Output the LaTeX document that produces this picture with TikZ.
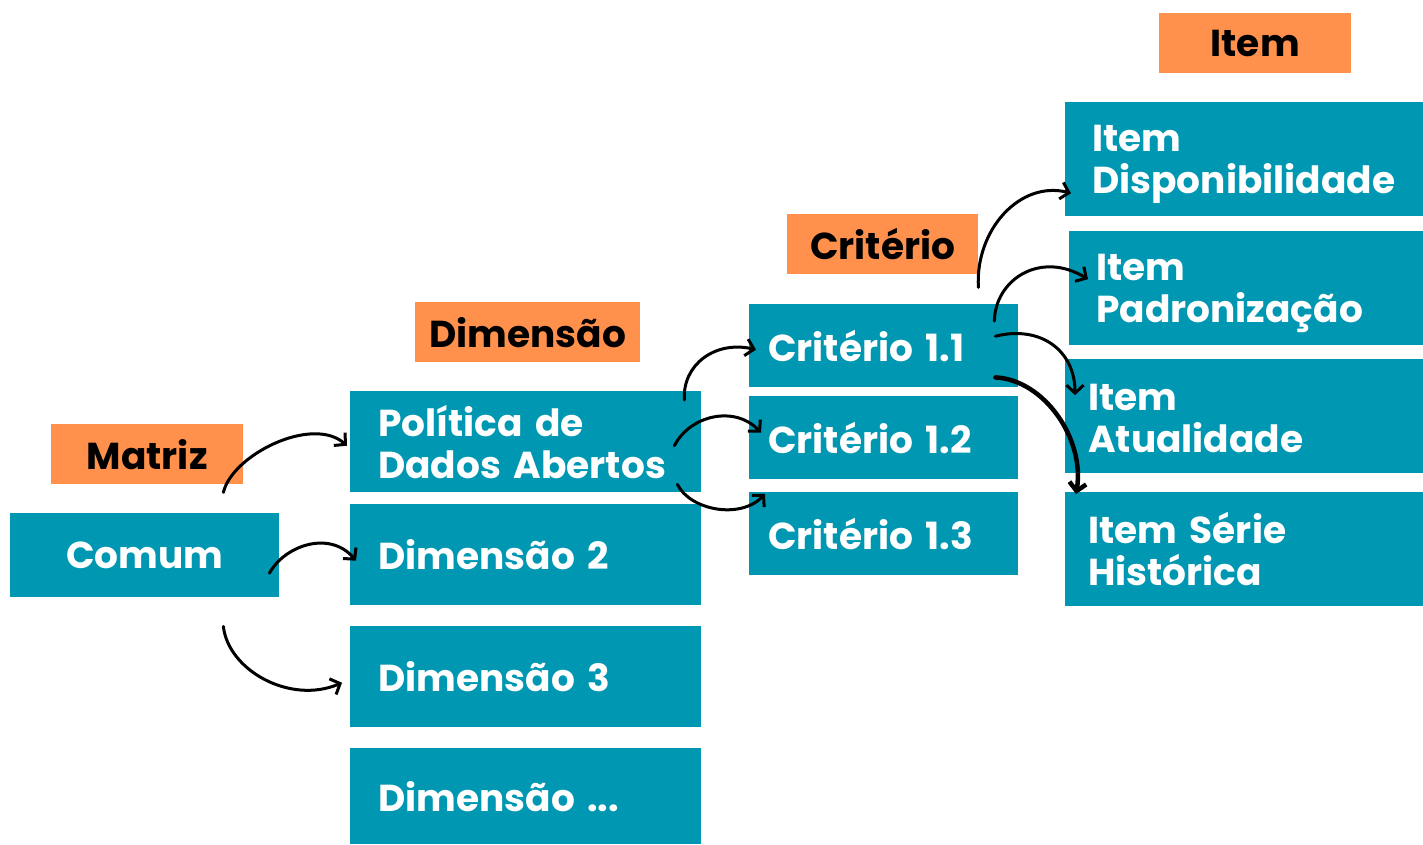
\documentclass[tikz,border=0pt]{standalone}
\usepackage{fontspec}
\setmainfont{Poppins}
\usetikzlibrary{arrows.meta,calc}
\definecolor{tealbox}{RGB}{0,151,178}
\definecolor{orangebox}{RGB}{255,145,77}
\newcommand{\topstrut}[1]{\rule{0pt}{#1pt}}
\tikzset{
  base/.style={anchor=north west, inner ysep=0pt, font=\fontsize{37.5}{42}\selectfont\bfseries},
  tbox/.style={base, fill=tealbox, text=white, align=left},
  obox/.style={base, fill=orangebox, text=black, align=center, inner xsep=0pt},
  arr/.style={line width=3pt, line cap=round, -{Straight Barb[length=8pt,width=17pt]}},
  arrthick/.style={arr, line width=4.5pt}
}
\begin{document}
\begin{tikzpicture}[x=1pt,y=-1pt]
\useasboundingbox (0,0) rectangle (1423,844);
% labels
\node[obox, minimum width=192pt, minimum height=60pt] (litem) at (1159,13) {Item};
\node[obox, minimum width=191pt, minimum height=60pt] (lcrit) at (787,214) {Critério};
\node[obox, minimum width=225pt, minimum height=60pt] (ldim) at (415,302) {Dimensão};
\node[obox, minimum width=192pt, minimum height=60pt] (lmat) at (51,424) {Matriz};
% items
\node[tbox, minimum height=114pt, text width=304pt, inner xsep=27pt] (idisp) at (1065,102) {\mbox{\topstrut{37}Item}\\\mbox{Disponibilidade}};
\node[tbox, minimum height=114pt, text width=300pt, inner xsep=27pt] (ipad) at (1069,231) {\mbox{\topstrut{36}Item}\\\mbox{Padronização}};
\node[tbox, minimum height=114pt, text width=312pt, inner xsep=23pt] (iatual) at (1065,359) {\mbox{\topstrut{30}Item}\\\mbox{Atualidade}};
\node[tbox, minimum height=114pt, text width=312pt, inner xsep=23pt] (iserie) at (1065,492) {\mbox{\topstrut{30}Item Série}\\\mbox{Histórica}};
% criteria
\node[tbox, minimum height=83pt, text width=231pt, inner xsep=19pt] (c11) at (749,304) {Critério 1.1};
\node[tbox, minimum height=83pt, text width=231pt, inner xsep=19pt] (c12) at (749,396) {Critério 1.2};
\node[tbox, minimum height=83pt, text width=231pt, inner xsep=19pt] (c13) at (749,492) {Critério 1.3};
% dimensions
\node[tbox, minimum height=101pt, text width=295pt, inner xsep=28pt] (pol) at (350,391) {\mbox{Política de}\\\mbox{Dados Abertos}};
\node[tbox, minimum height=101pt, text width=295pt, inner xsep=28pt] (d2) at (350,504) {Dimensão 2};
\node[tbox, minimum height=101pt, text width=295pt, inner xsep=28pt] (d3) at (350,626) {Dimensão 3};
\node[tbox, minimum height=96pt, text width=295pt, inner xsep=28pt] (dn) at (350,748) {Dimensão ...};
% matrix
\node[tbox, minimum height=84pt, text width=269pt, inner xsep=0pt, align=center] (comum) at (10,513) {Comum};
% arrows
\draw[arr] ($(lmat.south east)+(-20,8)$) .. controls (232,455) and (312,415) .. ($(pol.west)+(-3,4)$);
\draw[arr] ($(comum.east)+(-10,18)$) .. controls (285,545) and (330,530) .. ($(d2.west)+(6,6)$);
\draw[arr] ($(comum.south east)+(-56,29)$) .. controls (228,670) and (290,705) .. ($(d3.west)+(-8,6)$);
\draw[arr] ($(pol.north east)+(-17,9)$) .. controls (682,365) and (715,340) .. ($(c11.west)+(7,4)$);
\draw[arr] ($(pol.east)+(-27,4)$) .. controls (690,415) and (735,405) .. ($(c12.west)+(12,-5)$);
\draw[arr] ($(pol.south east)+(-24,-8)$) .. controls (690,510) and (740,520) .. ($(c13.north west)+(16,2)$);
\draw[arr] ($(lcrit.south east)+(0,13)$) .. controls (975,230) and (1020,180) .. ($(idisp.west)+(6,34)$);
\draw[arr] ($(c11.north east)+(-24,17)$) .. controls (995,280) and (1040,250) .. ($(ipad.west)+(19,-9)$);
\draw[arr] ($(c11.east)+(-23,-9.5)$) .. controls (1040,325) and (1075,350) .. ($(iatual.west)+(10,-21)$);
\draw[arrthick] ($(c11.south east)+(-23,-10)$) .. controls (1045,380) and (1085,440) .. ($(iserie.north west)+(11,2)$);
\end{tikzpicture}
\end{document}
